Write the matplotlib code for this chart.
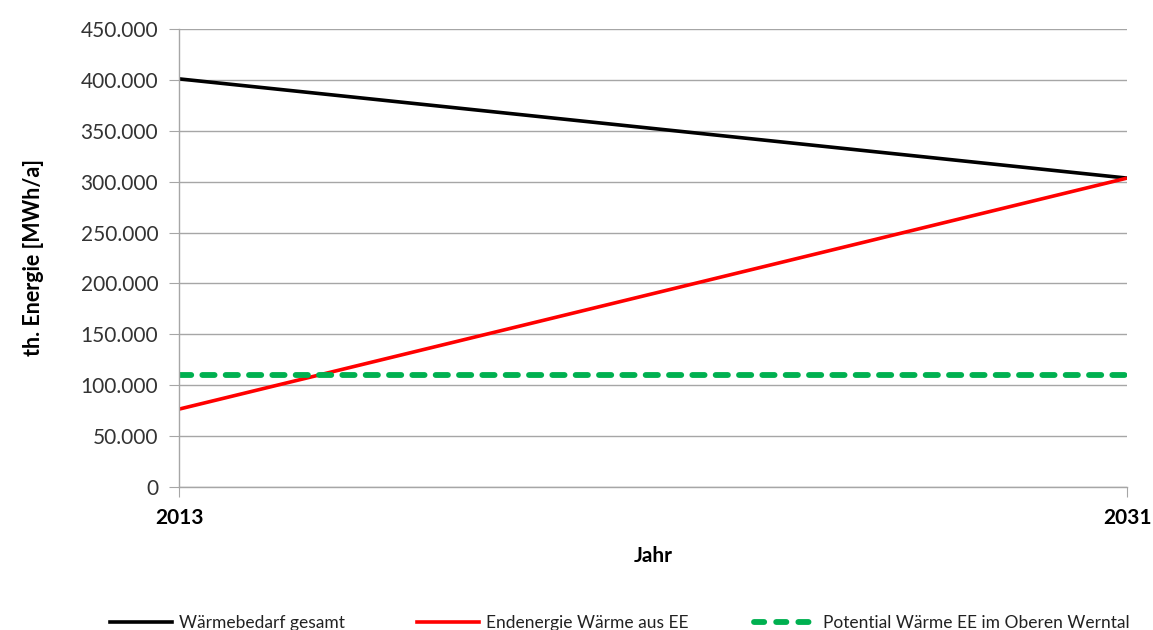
import matplotlib
matplotlib.use("Agg")
import matplotlib.pyplot as plt
from matplotlib.ticker import FuncFormatter, MultipleLocator
from matplotlib.lines import Line2D

plt.rcParams['font.family'] = ['Lato', 'DejaVu Sans']

years = [2013, 2031]
waermebedarf = [401000, 303500]
endenergie_ee = [76500, 303500]
potential_ee = [110000, 110000]
series_labels = ["Wärmebedarf gesamt", "Endenergie Wärme aus EE",
                 "Potential Wärme EE im Oberen Werntal"]

W, H = 1153, 630
fig = plt.figure(figsize=(W / 100, H / 100), dpi=100)
ax = fig.add_axes([179 / W, 1 - 487 / H, (1127 - 179) / W, (487 - 29) / H])

ax.plot(years, waermebedarf, color="black", lw=2.6, solid_capstyle="butt")
ax.plot(years, endenergie_ee, color="#ff0000", lw=2.6, solid_capstyle="butt")
ax.plot(years, potential_ee, color="#00b050", lw=4.2, dashes=(2.1, 1.9),
        dash_capstyle="round")

ax.set_xlim(years[0], years[1])
ax.set_ylim(0, 450000)
ax.yaxis.set_major_locator(MultipleLocator(50000))
ax.yaxis.set_major_formatter(FuncFormatter(lambda v, p: f"{int(v):,}".replace(",", ".")))
ax.set_xticks(years)
ax.set_xticklabels([str(y) for y in years], fontsize=15, fontweight="bold")

ax.grid(axis="y", color="#a6a6a6", lw=1)
ax.set_axisbelow(True)
for side in ["top", "right"]:
    ax.spines[side].set_visible(False)
for side in ["left", "bottom"]:
    ax.spines[side].set_color("#a6a6a6")
    ax.spines[side].set_linewidth(1)
ax.tick_params(axis="y", length=7, color="#a6a6a6", labelsize=15, pad=8, labelcolor="#333333")
ax.tick_params(axis="x", length=7, color="#a6a6a6", pad=8)

ax.set_xlabel("Jahr", fontsize=15, fontweight="bold", labelpad=13)
ax.set_ylabel("th. Energie [MWh/a]", fontsize=15.5, fontweight="bold", labelpad=26)

# Legend row along the bottom edge
handles = [
    Line2D([], [], color="black", lw=2.6),
    Line2D([], [], color="#ff0000", lw=2.6),
    Line2D([], [], color="#00b050", lw=4.2, dashes=(1.75, 2.05), dash_capstyle="round"),
]
legend_x = [110, 417, 754]
for h, lab, x0 in zip(handles, series_labels, legend_x):
    fig.legend([h], [lab], loc="center left", bbox_to_anchor=(x0 / W, 1 - 623 / H),
               frameon=False, fontsize=12.5, handlelength=3.55, handletextpad=0.45,
               borderpad=0, borderaxespad=0, labelcolor="#222222")

fig.savefig("out.png", dpi=100)
